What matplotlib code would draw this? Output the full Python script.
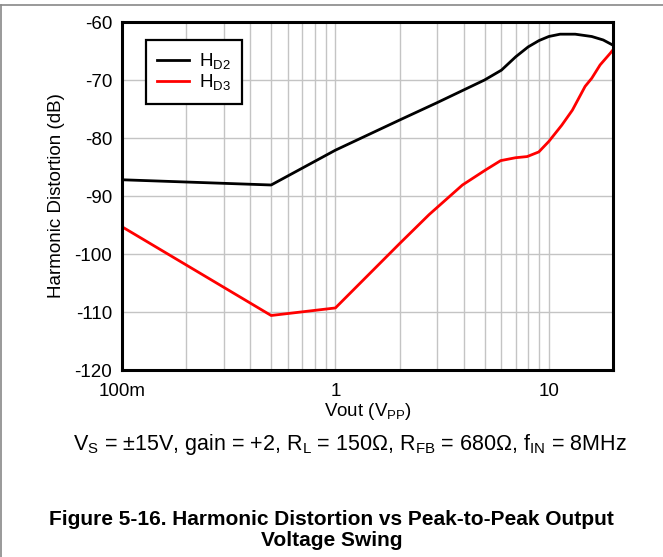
import numpy as np
import matplotlib.pyplot as plt
from matplotlib.lines import Line2D
from matplotlib.ticker import LogLocator, NullFormatter

plt.rcParams['font.family'] = ['Liberation Sans', 'DejaVu Sans']
plt.rcParams['mathtext.fontset'] = 'custom'
plt.rcParams['mathtext.rm'] = 'Liberation Sans'
plt.rcParams['mathtext.it'] = 'Liberation Sans:italic'
plt.rcParams['mathtext.bf'] = 'Liberation Sans:bold'
plt.rcParams['axes.unicode_minus'] = False

# HD2 (black)
vout_hd2 = [0.1, 0.5, 1, 2, 3, 5, 6, 7, 8, 9, 10, 11.3, 13.3, 15.9, 18, 20]
hd2 = [-87.2, -88.1, -82.1, -76.9, -73.9, -70.0, -68.3, -66.0, -64.3, -63.2, -62.5, -62.1, -62.1, -62.5, -63.1, -64.0]

# HD3 (red)
vout_hd3 = [0.1, 0.5, 1, 2, 2.75, 3.94, 5.06, 5.95, 6.99, 7.92, 8.98, 10, 11.5, 12.9, 14.8, 15.9, 17.4, 19.4, 20]
hd3 = [-95.3, -110.6, -109.3, -98.2, -93.2, -88.1, -85.5, -83.9, -83.4, -83.2, -82.4, -80.6, -77.8, -75.2, -71.1, -69.7, -67.4, -65.4, -64.8]

y_ticks = [-60, -70, -80, -90, -100, -110, -120]
x_ticks = [0.1, 1, 10]
x_tick_labels = ['100m', '1', '10']

fig = plt.figure(figsize=(6.63, 5.57), dpi=100)
ax = fig.add_axes([0.184, 0.3357, 0.7406, 0.6248])

ax.plot(vout_hd2, hd2, color='black', lw=2, label=r'H$_{\mathrm{D2}}$')
ax.plot(vout_hd3, hd3, color='#ff0000', lw=2, label=r'H$_{\mathrm{D3}}$')

ax.set_xscale('log')
ax.set_xlim(0.1, 20)
ax.set_ylim(-120, -60)
ax.set_yticks(y_ticks)
ax.set_xticks(x_ticks)
ax.set_xticklabels(x_tick_labels)
ax.xaxis.set_minor_locator(LogLocator(base=10, subs=np.arange(2, 10)))
ax.xaxis.set_minor_formatter(NullFormatter())
ax.tick_params(which='both', length=0, labelsize=13.5)
ax.tick_params(axis='y', pad=7)
ax.tick_params(axis='x', pad=9)
ax.grid(which='both', axis='x', color='#c4c4c4', lw=1)
ax.grid(which='major', axis='y', color='#c4c4c4', lw=1)
for s in ax.spines.values():
    s.set_linewidth(2.2)

ax.set_xlabel(r'Vout (V$_{\mathrm{PP}}$)', fontsize=13.5, labelpad=1)
ax.set_ylabel('Harmonic Distortion (dB)', fontsize=13.5, labelpad=7)

leg = ax.legend(loc='upper left', bbox_to_anchor=(0.049, 0.948), borderaxespad=0,
                fancybox=False, edgecolor='black', framealpha=1, fontsize=13.5,
                handlelength=1.7, handletextpad=0.5, labelspacing=0.05,
                borderpad=0.6)
leg.get_frame().set_linewidth(1.6)

fig.text(0.527, 0.202,
         r'V$_{\mathrm{S}}$ = ±15V, gain = +2, R$_{\mathrm{L}}$ = 150Ω, R$_{\mathrm{FB}}$ = 680Ω, f$_{\mathrm{IN}}$ = 8MHz',
         ha='center', va='center', fontsize=15.5)
fig.text(0.5, 0.049, 'Figure 5-16. Harmonic Distortion vs Peak-to-Peak Output\nVoltage Swing',
         ha='center', va='center', fontsize=15, fontweight='bold', linespacing=1.15)

# page border lines
fig.add_artist(Line2D([0.002, 0.002], [0, 0.991], transform=fig.transFigure, color='#888888', lw=1.2))
fig.add_artist(Line2D([0.002, 1], [0.991, 0.991], transform=fig.transFigure, color='#888888', lw=1.2))

fig.savefig('out.png', dpi=100)
